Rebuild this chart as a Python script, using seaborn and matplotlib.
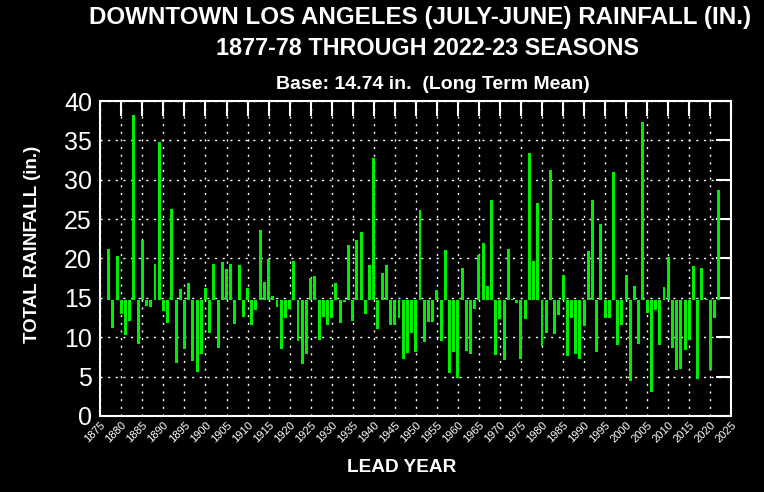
import matplotlib
matplotlib.use("Agg")
import matplotlib.pyplot as plt
import seaborn as sns

# Downtown LA seasonal rainfall (July-June), lead year 1877 .. 2022
BASE = 14.74
years = list(range(1877, 2023))
rainfall = [
    21.2, 11.2, 20.3, 13.0, 10.3, 12.0, 38.2, 9.1, 22.3, 14.0,   # 1877-1886
    13.8, 19.3, 34.8, 13.3, 11.8, 26.3, 6.7, 16.1, 8.5, 16.9,    # 1887-1896
    7.0, 5.6, 7.9, 16.3, 10.5, 19.3, 8.6, 19.5, 18.7, 19.3,      # 1897-1906
    11.7, 19.2, 12.6, 16.2, 11.6, 13.4, 23.6, 17.0, 19.9, 15.3,  # 1907-1916
    13.9, 8.5, 12.5, 13.6, 19.7, 9.5, 6.6, 7.9, 17.5, 17.8,      # 1917-1926
    9.7, 12.6, 11.5, 12.5, 16.9, 11.8, 14.5, 21.7, 12.0, 22.4,   # 1927-1936
    23.4, 13.0, 19.2, 32.8, 11.1, 18.2, 19.2, 11.5, 11.6, 12.5,  # 1937-1946
    7.2, 8.0, 10.5, 8.1, 26.2, 9.4, 11.9, 11.9, 16.0, 9.5,       # 1947-1956
    21.1, 5.5, 8.1, 4.8, 18.8, 8.3, 7.9, 13.6, 20.4, 22.0,       # 1957-1966
    16.5, 27.4, 7.7, 12.3, 7.1, 21.2, 14.9, 14.3, 7.2, 12.3,     # 1967-1976
    33.4, 19.7, 27.0, 8.9, 10.6, 31.2, 10.4, 12.8, 17.9, 7.6,    # 1977-1986
    12.4, 7.9, 7.3, 11.4, 21.0, 27.4, 8.1, 24.4, 12.4, 12.4,     # 1987-1996
    31.0, 9.0, 11.5, 17.9, 4.4, 16.5, 9.2, 37.3, 13.1, 3.1,      # 1997-2006
    13.4, 9.0, 16.4, 20.2, 8.6, 5.8, 6.0, 8.4, 9.6, 19.0,        # 2007-2016
    4.7, 18.8, 14.9, 5.8, 12.4, 28.7,                            # 2017-2022
]
departure = [r - BASE for r in rainfall]
year_ticks = list(range(1875, 2026, 5))
rain_ticks = list(range(0, 41, 5))

sns.set_style("dark", {"axes.facecolor": "black", "figure.facecolor": "black"})
plt.rcParams["font.family"] = ["Liberation Sans", "DejaVu Sans"]

fig = plt.figure(figsize=(7.64, 4.92), dpi=100, facecolor="black")
ax = fig.add_axes([0.1313, 0.1545, 0.8259, 0.6402])

# bars hang from the long-term mean
sns.barplot(x=years, y=departure, bottom=BASE, native_scale=True, width=0.7,
            color="#00ee00", saturation=1, linewidth=0, errorbar=None, ax=ax)

ax.set_xlim(1875, 2025)
ax.set_ylim(0, 40)
ax.set_xticks(year_ticks)
ax.set_xticklabels([str(y) for y in year_ticks], rotation=45, ha="right",
                   va="top", rotation_mode="anchor", fontsize=8, color="white")
ax.set_yticks(rain_ticks)
ax.set_yticklabels([str(v) for v in rain_ticks], fontsize=18, color="white")
ax.set_xlabel("")
ax.set_ylabel("")

ax.grid(True, color="white", linestyle=(0, (1.5, 4)), linewidth=1)
ax.set_axisbelow(True)
for s in ax.spines.values():
    s.set_color("white")
    s.set_linewidth(1.5)
    s.set_visible(True)
ax.tick_params(axis="x", bottom=False, top=True, direction="in", length=11,
               width=1.5, color="white", pad=3)
ax.tick_params(axis="y", left=False, right=True, direction="in", length=11,
               width=1.5, color="white", pad=6)

fig.text(0.5497, 0.9654, "DOWNTOWN LOS ANGELES (JULY-JUNE) RAINFALL (IN.)",
         ha="center", va="center", fontsize=17.4, fontweight="bold", color="white")
fig.text(0.5595, 0.9024, "1877-78 THROUGH 2022-23 SEASONS",
         ha="center", va="center", fontsize=16.8, fontweight="bold", color="white")
fig.text(0.566, 0.829, "Base: 14.74 in.  (Long Term Mean)",
         ha="center", va="center", fontsize=14, fontweight="bold", color="white")
fig.text(33 / 764, 1 - 244 / 492, "TOTAL RAINFALL (in.)", rotation=90,
         ha="center", va="center", fontsize=13.5, fontweight="bold", color="white")
fig.text(402 / 764, 1 - 468 / 492, "LEAD YEAR",
         ha="center", va="center", fontsize=13.7, fontweight="bold", color="white")

fig.savefig("out.png", dpi=100, facecolor="black")
